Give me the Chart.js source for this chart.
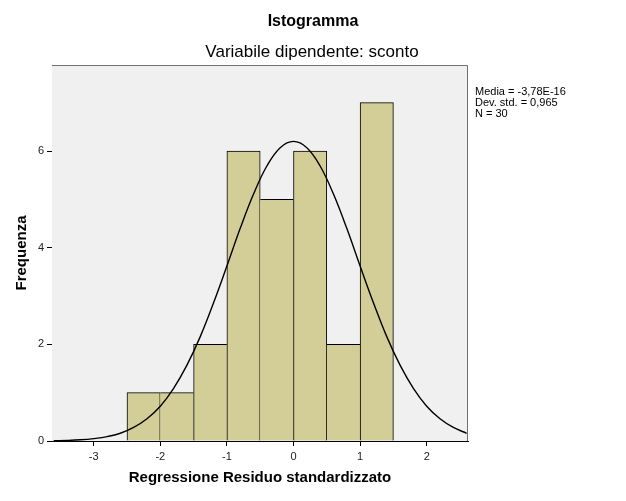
<!DOCTYPE html>
<html>
<head>
<meta charset="utf-8">
<script src="https://cdn.jsdelivr.net/npm/chart.js@4/dist/chart.umd.min.js"></script>
<style>
  html, body { margin: 0; padding: 0; background: #fff; }
  #wrap { width: 626px; height: 501px; }
</style>
</head>
<body>
<div id="wrap"><canvas id="histChart" width="626" height="501"></canvas></div>
<script>
// dati
const binCenters = [-2.25, -1.75, -1.25, -0.75, -0.25, 0.25, 0.75, 1.25];
const frequencies = [1, 1, 2, 6, 5, 6, 2, 7];

// curva normale (valori stimati dal grafico)
const curveX = [-3.6, -3.4, -3.2, -3.0, -2.8, -2.6, -2.4, -2.2, -2.0, -1.8, -1.6, -1.4, -1.2, -1.0, -0.8, -0.6, -0.4, -0.2,
  0, 0.2, 0.4, 0.6, 0.8, 1.0, 1.2, 1.4, 1.6, 1.8, 2.0, 2.2, 2.4, 2.6];
const curveY = [0.006, 0.012, 0.025, 0.05, 0.09, 0.16, 0.28, 0.46, 0.72, 1.09, 1.57, 2.16, 2.86, 3.62, 4.40, 5.11, 5.69, 6.07,
  6.2, 6.07, 5.69, 5.11, 4.40, 3.62, 2.86, 2.16, 1.57, 1.09, 0.72, 0.46, 0.28, 0.16];

const xTicks = [-3, -2, -1, 0, 1, 2];
const yTicks = [0, 2, 4, 6];
const statLines = ['Media = -3,78E-16', 'Dev. std. = 0,965', 'N = 30'];

const FONT = 'Arial, "Liberation Sans", sans-serif';

// sfondo dell'area del grafico + bordo superiore/destro + testi
const decorPlugin = {
  id: 'decor',
  beforeDatasetsDraw(chart) {
    const { ctx, chartArea: a } = chart;
    ctx.save();
    ctx.fillStyle = '#f0f0f0';
    ctx.fillRect(a.left, a.top, a.right - a.left, a.bottom - a.top);
    ctx.strokeStyle = '#707070';
    ctx.lineWidth = 1;
    ctx.beginPath();
    ctx.moveTo(a.left, a.top + 0.5);
    ctx.lineTo(a.right - 0.5, a.top + 0.5);
    ctx.lineTo(a.right - 0.5, a.bottom);
    ctx.stroke();
    ctx.restore();
  },
  afterDraw(chart) {
    const ctx = chart.ctx;
    ctx.save();
    ctx.fillStyle = '#000';
    ctx.textAlign = 'center';
    ctx.textBaseline = 'middle';
    ctx.font = 'bold 16px ' + FONT;
    ctx.fillText('Istogramma', 313, 22);
    ctx.font = '17px ' + FONT;
    ctx.fillText('Variabile dipendente: sconto', 312, 52);
    ctx.textAlign = 'left';
    ctx.font = '11px ' + FONT;
    statLines.forEach((t, i) => ctx.fillText(t, 475, 92 + i * 11));
    ctx.restore();
  }
};

const bars = binCenters.map((x, i) => ({ x, y: frequencies[i] }));
const curve = curveX.map((x, i) => ({ x, y: curveY[i] }));

// bordo condiviso disegnato una sola volta, dalla barra più alta
function barBorder(c) {
  const i = c.dataIndex;
  const h = frequencies[i];
  const prev = frequencies[i - 1];
  const next = frequencies[i + 1];
  return {
    top: 1,
    bottom: 0,
    left: (prev === undefined || h > prev) ? 1 : 0,
    right: (next === undefined || h >= next) ? 1 : 0
  };
}

const ctx = document.getElementById('histChart').getContext('2d');
new Chart(ctx, {
  data: {
    datasets: [{
      type: 'line',
      data: curve,
      borderColor: '#000',
      borderWidth: 1.4,
      pointRadius: 0,
      tension: 0.4,
      fill: false,
      order: 0
    }, {
      type: 'bar',
      data: bars,
      backgroundColor: '#d3ce97',
      borderColor: '#000',
      borderWidth: barBorder,
      borderSkipped: false,
      barPercentage: 1,
      categoryPercentage: 1,
      grouped: false,
      order: 1
    }]
  },
  options: {
    responsive: false,
    animation: false,
    layout: { padding: { left: 0, right: 158, top: 65, bottom: 0 } },
    plugins: {
      legend: { display: false },
      tooltip: { enabled: false },
      title: { display: false }
    },
    scales: {
      x: {
        type: 'linear',
        min: -3.626,
        max: 2.62,
        offset: false,
        afterFit: s => { s.height = 60; },
        afterBuildTicks: s => { s.ticks = xTicks.map(v => ({ value: v })); },
        grid: { offset: false, drawOnChartArea: false, drawTicks: true, tickLength: 5, color: '#000' },
        border: { color: '#000', width: 1 },
        ticks: { color: '#222', font: { family: FONT, size: 11 }, padding: 4 },
        title: {
          display: true,
          text: 'Regressione Residuo standardizzato',
          color: '#000',
          font: { family: FONT, size: 15, weight: 'bold' },
          padding: { top: 0, bottom: 14 }
        }
      },
      y: {
        type: 'linear',
        min: 0,
        max: 7.78,
        afterFit: s => { s.width = 52; },
        afterBuildTicks: s => { s.ticks = yTicks.map(v => ({ value: v })); },
        grid: { drawOnChartArea: false, drawTicks: true, tickLength: 5, color: '#000' },
        border: { color: '#000', width: 1 },
        ticks: { color: '#222', font: { family: FONT, size: 11 }, padding: 3 },
        title: {
          display: true,
          text: 'Frequenza',
          color: '#000',
          font: { family: FONT, size: 15, weight: 'bold' },
          padding: { top: 13, bottom: 0 }
        }
      }
    }
  },
  plugins: [decorPlugin]
});
</script>
</body>
</html>
